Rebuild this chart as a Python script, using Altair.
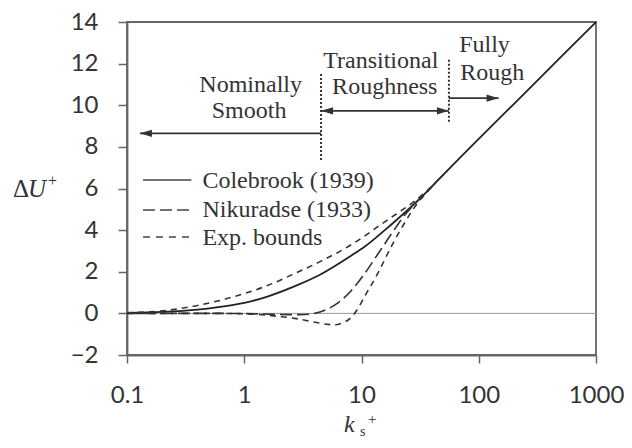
import altair as alt
import pandas as pd

# ---- data ----
colebrook_k = [0.1, 0.2, 0.4, 0.6, 1, 1.6, 2.9, 4.3, 8.2, 10.6, 15.8, 20, 30, 40, 50, 70, 100, 200, 500, 1000]
colebrook_v = [0.02, 0.07, 0.18, 0.3, 0.5, 0.82, 1.38, 1.82, 2.78, 3.2, 4.0, 4.5, 5.4, 6.1, 6.67, 7.51, 8.38, 10.07, 12.31, 14.0]

nik_k = [0.1, 0.5, 1, 2, 3, 4, 5, 6.3, 8.2, 10.6, 13.8, 17.9, 23.2, 30, 40, 50]
nik_v = [0, 0, -0.01, -0.05, -0.06, 0.0, 0.18, 0.5, 1.1, 1.9, 2.85, 3.8, 4.7, 5.4, 6.1, 6.67]

up_k = [0.1, 0.2, 0.4, 0.7, 1, 1.6, 2.9, 4.3, 8.2, 15.8, 30, 40]
up_v = [0.03, 0.12, 0.38, 0.7, 0.95, 1.35, 2.0, 2.45, 3.3, 4.4, 5.5, 6.1]

low_k = [0.1, 0.5, 1, 1.5, 2, 2.7, 3.8, 5.2, 6, 6.7, 8.2, 9, 10.6, 13.8, 17.9, 23.2, 30, 36.5, 45]
low_v = [0, 0, -0.02, -0.08, -0.15, -0.24, -0.4, -0.53, -0.55, -0.48, -0.18, 0.1, 0.8, 1.93, 3.2, 4.33, 5.29, 5.85, 6.42]

x_ticks = [0.1, 1, 10, 100, 1000]
y_ticks = [-2, 0, 2, 4, 6, 8, 10, 12, 14]

# region markers
region_lines_k = [4.52, 55.7]
region_lines_v1 = [7.37, 9.21]
region_lines_v2 = [11.57, 12.2]

arrow_k1 = [0.129, 4.52, 55.7]
arrow_k2 = [4.52, 55.7, 147.5]
arrow_v = [8.65, 9.73, 10.34]

head_k = [0.129, 4.52, 55.7, 147.5]
head_v = [8.65, 9.73, 9.73, 10.34]
head_dir = ["left", "left", "right", "right"]

note_labels = ["Nominally", "Smooth", "Transitional", "Roughness"]
note_k = [1.134, 1.1, 14.6, 15.8]
note_v = [10.65, 9.38, 11.78, 10.54]

note2_labels = ["Fully", "Rough"]
note2_k = [68.1, 69.4]
note2_v = [12.58, 11.2]

legend_labels = ["Colebrook (1939)", "Nikuradse (1933)", "Exp. bounds"]
legend_line_k1 = [0.137, 0.137, 0.137]
legend_line_k2 = [0.354, 0.354, 0.354]
legend_line_v = [6.41, 4.97, 3.67]
legend_text_k = [0.44, 0.44, 0.44]
legend_text_v = [6.03, 4.63, 3.29]

# ---- shared encodings ----
xscale = alt.Scale(type="log", domain=[0.1, 1000], nice=False)
yscale = alt.Scale(domain=[-2, 14], nice=False)
xaxis = alt.Axis(values=x_ticks, format="~g", title=None, grid=False,
                 labelFont="Lato", labelFontSize=24, labelColor="#333",
                 labelPadding=20, tickSize=8, tickColor="#666", tickWidth=1.5,
                 domainColor="#666", domainWidth=1.8, labelFlush=False)
yaxis = alt.Axis(values=y_ticks, title=None, grid=False,
                 labelFont="Lato", labelFontSize=24, labelColor="#333",
                 labelPadding=20, tickSize=9, tickColor="#666", tickWidth=1.5,
                 domainColor="#666", domainWidth=1.8)


def X(field="k"):
    return alt.X(f"{field}:Q", scale=xscale, axis=xaxis)


def Y(field="v"):
    return alt.Y(f"{field}:Q", scale=yscale, axis=yaxis)


SERIF = "Liberation Serif"
TXT = "#333"

zero = alt.Chart(pd.DataFrame({"v": [0]})).mark_rule(color="#999", strokeWidth=1).encode(y=Y())

cole = alt.Chart(pd.DataFrame({"k": colebrook_k, "v": colebrook_v})).mark_line(
    color="#222", strokeWidth=1.8, interpolate="monotone").encode(x=X(), y=Y())

nik = alt.Chart(pd.DataFrame({"k": nik_k, "v": nik_v})).mark_line(
    color="#333", strokeWidth=1.6, strokeDash=[12, 5], interpolate="monotone").encode(x=X(), y=Y())

exp_df = pd.concat([
    pd.DataFrame({"k": up_k, "v": up_v, "b": "upper"}),
    pd.DataFrame({"k": low_k, "v": low_v, "b": "lower"}),
])
exp = alt.Chart(exp_df).mark_line(
    color="#333", strokeWidth=1.6, strokeDash=[6, 5], interpolate="monotone").encode(
    x=X(), y=Y(), detail="b:N")

vlines = alt.Chart(pd.DataFrame({"k": region_lines_k, "v": region_lines_v1, "v2": region_lines_v2})).mark_rule(
    color="#333", strokeWidth=2, strokeDash=[2, 2]).encode(x=X(), y=Y(), y2="v2:Q")

arrows = alt.Chart(pd.DataFrame({"k": arrow_k1, "k2": arrow_k2, "v": arrow_v})).mark_rule(
    color="#333", strokeWidth=1.8).encode(x=X(), x2="k2:Q", y=Y())

heads_df = pd.DataFrame({"k": head_k, "v": head_v, "d": head_dir})
left_heads = alt.Chart(heads_df[heads_df.d == "left"]).mark_point(
    shape="M0,0L2,-0.6L2,0.6Z", filled=True, size=144, color="#333", opacity=1, strokeWidth=0).encode(x=X(), y=Y())
right_heads = alt.Chart(heads_df[heads_df.d == "right"]).mark_point(
    shape="M0,0L-2,-0.6L-2,0.6Z", filled=True, size=144, color="#333", opacity=1, strokeWidth=0).encode(x=X(), y=Y())

notes = alt.Chart(pd.DataFrame({"k": note_k, "v": note_v, "t": note_labels})).mark_text(
    font=SERIF, fontSize=24, color=TXT, align="center", baseline="alphabetic").encode(x=X(), y=Y(), text="t:N")
notes2 = alt.Chart(pd.DataFrame({"k": note2_k, "v": note2_v, "t": note2_labels})).mark_text(
    font=SERIF, fontSize=24, color=TXT, align="left", baseline="alphabetic").encode(x=X(), y=Y(), text="t:N")

leg_df = pd.DataFrame({"k": legend_line_k1, "k2": legend_line_k2, "v": legend_line_v})
leg_solid = alt.Chart(leg_df.iloc[[0]]).mark_rule(color="#444", strokeWidth=1.5).encode(x=X(), x2="k2:Q", y=Y())
leg_long = alt.Chart(leg_df.iloc[[1]]).mark_rule(color="#444", strokeWidth=1.5, strokeDash=[12, 5]).encode(x=X(), x2="k2:Q", y=Y())
leg_short = alt.Chart(leg_df.iloc[[2]]).mark_rule(color="#444", strokeWidth=1.5, strokeDash=[7, 6]).encode(x=X(), x2="k2:Q", y=Y())
leg_text = alt.Chart(pd.DataFrame({"k": legend_text_k, "v": legend_text_v, "t": legend_labels})).mark_text(
    font=SERIF, fontSize=24, color=TXT, align="left", baseline="alphabetic").encode(x=X(), y=Y(), text="t:N")


# axis titles (pixel placed, outside plot area)
def ptext(txt, x, y, size, style="normal", align="left", baseline="alphabetic"):
    return alt.Chart(pd.DataFrame({"t": [txt]})).mark_text(
        font=SERIF, fontSize=size, fontStyle=style, color=TXT, align=align, baseline=baseline).encode(
        x=alt.value(x), y=alt.value(y), text="t:N")


ytitle = ptext("Δ", -114, 175, 25) + ptext("U", -99, 175, 25, "italic") + ptext("+", -79, 159, 16, baseline="middle")
xtitle = ptext("k", 217, 410, 24, "italic") + ptext("+", 241, 397, 15, baseline="middle") + ptext("s", 233, 414, 14)

chart = alt.layer(
    zero, cole, nik, exp, vlines, arrows, left_heads, right_heads,
    notes, notes2, leg_solid, leg_long, leg_short, leg_text, ytitle, xtitle
).properties(
    width=469, height=333,
    autosize=alt.AutoSizeParams(type="none"),
    padding={"left": 119, "top": 14, "right": 28, "bottom": 85},
).configure_view(stroke="#666", strokeWidth=1.8)

chart.save("out.html", embed_options={"renderer": "svg", "actions": False})
